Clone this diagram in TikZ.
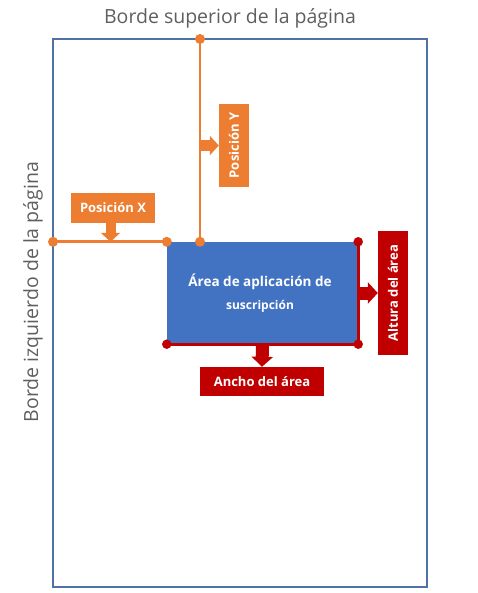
\documentclass[tikz,border=0pt]{standalone}
\usepackage{fontspec}
\setmainfont{Open Sans}
\usetikzlibrary{arrows.meta}
\definecolor{pageblue}{RGB}{79,113,165}
\definecolor{orng}{RGB}{237,125,49}
\definecolor{rd}{RGB}{192,0,0}
\definecolor{areablue}{RGB}{66,115,195}
\definecolor{lblgray}{RGB}{95,95,95}
\tikzset{
  lbl/.style={text=lblgray, font=\fontsize{19.5}{22}\selectfont, inner sep=0},
  obox/.style={fill=orng, text=white, font=\bfseries\fontsize{13}{15}\selectfont, inner sep=0, minimum width=#1},
  rbox/.style={fill=rd, text=white, font=\bfseries\fontsize{13}{15}\selectfont, inner sep=0, minimum width=#1},
  oline/.style={orng, line width=2.7pt},
  rline/.style={rd, line width=3pt},
  odot/.style={fill=orng, circle, inner sep=0, minimum size=10pt},
  rdot/.style={fill=rd, circle, inner sep=0, minimum size=9.5pt},
  oarrow/.style={orng, line width=#1, -{Triangle[width=19pt,length=9pt]}},
  rarrow/.style={rd, line width=13pt, -{Triangle[width=21pt,length=10pt]}},
}
\begin{document}
\begin{tikzpicture}[x=1pt,y=-1pt]
\useasboundingbox (0,0) rectangle (477,593);
% page
\coordinate (pTL) at (53,39);
\coordinate (pBR) at (427,587);
\draw[pageblue, line width=1.4pt] (pTL) rectangle (pBR);
\node[lbl] (top) at (230,18) {Borde superior de la página};
\node[lbl, rotate=90] (left) at (33,292) {Borde izquierdo de la página};
% area
\node[fill=areablue, inner sep=0, minimum width=191pt, minimum height=102pt] (area) at (262.5,293) {};
\node[text=white, font=\bfseries\fontsize{13.5}{16}\selectfont, inner sep=0] (t1) at (260,282) {Área de aplicación de};
\node[text=white, font=\bfseries\fontsize{12}{14}\selectfont, inner sep=0] (t2) at (260,306) {suscripción};
% orange guides
\coordinate (yTop) at (200,39);
\coordinate (yBot) at (area.north west -| yTop);
\coordinate (xL) at (area.north west -| pTL);
\draw[oline] (yTop) -- (yBot);
\draw[oline] (xL) -- (area.north west);
\node[odot] (d1) at (yTop) {};
\node[odot] (d2) at (yBot) {};
\node[odot] (d3) at (xL) {};
\node[odot] (d4) at (area.north west) {};
% red edges
\draw[rline] (area.north east) -- (area.south east) -- (area.south west);
\node[rdot] (r1) at (area.north east) {};
\node[rdot] (r2) at (area.south east) {};
\node[rdot] (r3) at (area.south west) {};
% label boxes
\node[obox=83pt, minimum height=30pt, rotate=90] (posy) at (234,145.5) {Posición Y};
\node[obox=84pt, minimum height=30pt] (posx) at (113,208) {Posición X};
\node[rbox=124pt, minimum height=30pt, rotate=90] (alt) at (393,293) {Altura del área};
\node[rbox=124pt, minimum height=29pt] (anc) at (262,381.5) {Ancho del área};
% block arrows
\coordinate (posxa) at ([xshift=-2.5pt]posx.south);
\draw[oarrow=10pt] (posxa) -- (posxa |- xL);
\draw[oarrow=11pt] (yTop |- posy.north) -- (posy.north);
\draw[rarrow] (area.east) -- (area.east -| alt.north);
\draw[rarrow] (area.south) -- (anc.north);
\end{tikzpicture}
\end{document}
